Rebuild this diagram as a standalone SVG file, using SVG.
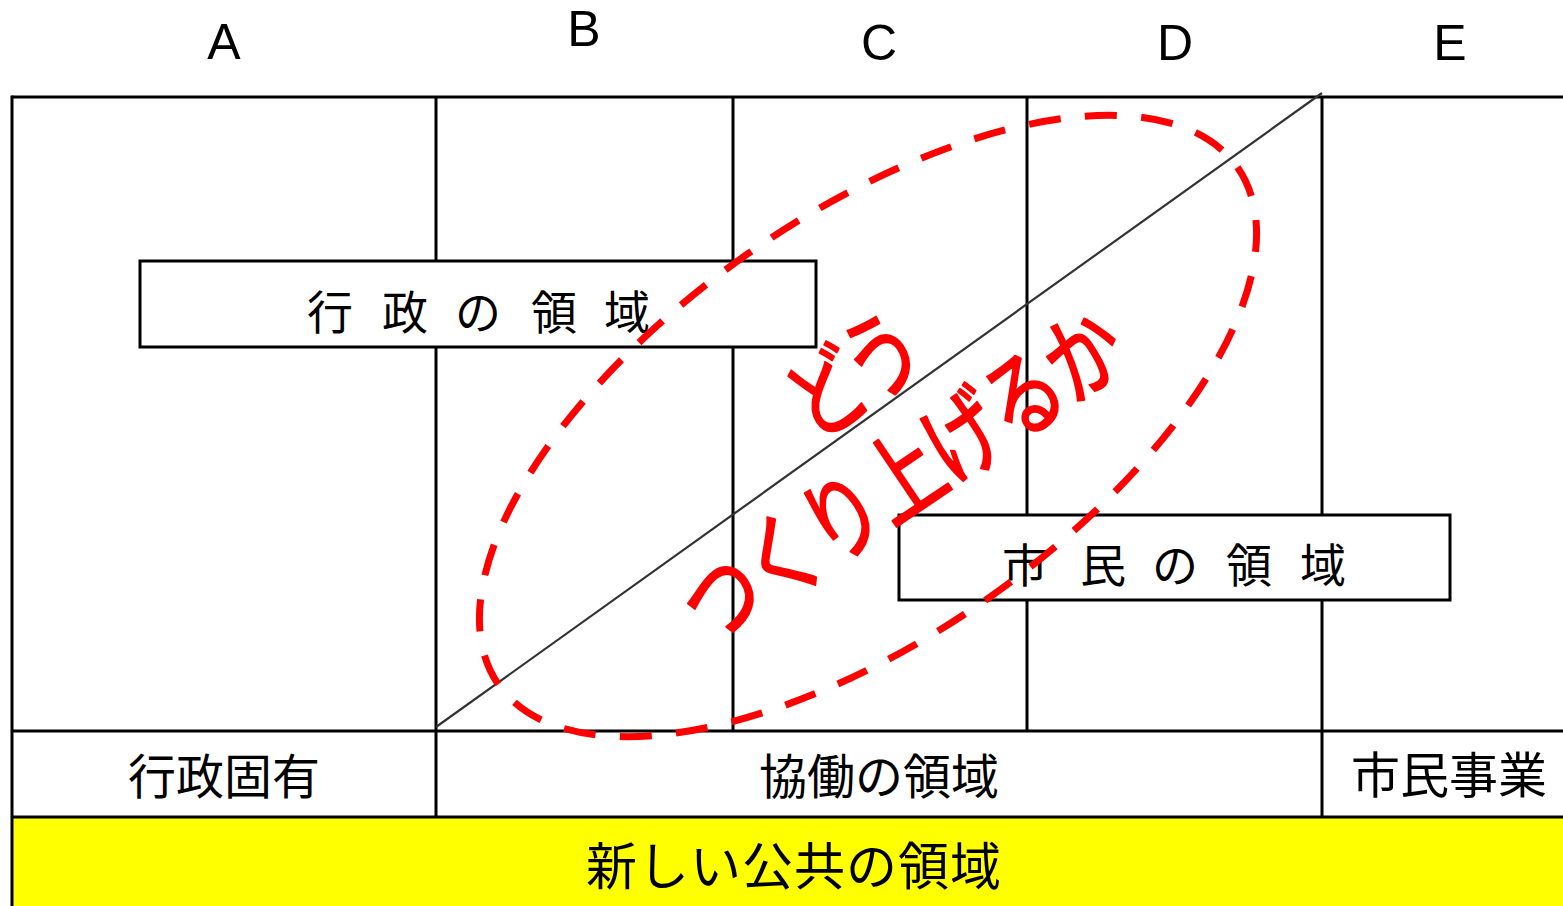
<svg xmlns="http://www.w3.org/2000/svg" width="1563" height="906" viewBox="0 0 1563 906">
<style>
.grid{stroke:#000;stroke-width:3;fill:none}
.box{fill:#fff;stroke:#000;stroke-width:3}
.hdr{font-family:"Liberation Sans",Arial,sans-serif;font-size:50px;fill:#000;text-anchor:middle}
.jp{font-family:"Noto Sans CJK JP","Noto Sans CJK SC",sans-serif;fill:#000;text-anchor:middle}
.red{font-family:"Noto Sans CJK JP","Noto Sans CJK SC",sans-serif;fill:#ff0000;stroke:#ff0000;stroke-width:2;stroke-linejoin:round;font-size:96px;font-weight:400;text-anchor:middle}
</style>
<rect x="0" y="0" width="1563" height="906" fill="#fff"/>
<g id="headers">
<text class="hdr" x="224" y="59">A</text>
<text class="hdr" x="584" y="46">B</text>
<text class="hdr" x="879" y="60">C</text>
<text class="hdr" x="1175" y="60">D</text>
<text class="hdr" x="1450" y="60">E</text>
</g>
<g id="public-band">
<rect x="12" y="817" width="1551" height="89" fill="#ffff00"/>
<text class="jp" x="794" y="885" font-size="51" letter-spacing="1">新しい公共の領域</text>
</g>
<g id="grid" class="grid">
<line x1="12" y1="97" x2="1563" y2="97"/>
<line x1="12" y1="731" x2="1563" y2="731"/>
<line x1="12" y1="817" x2="1563" y2="817"/>
<line x1="12" y1="95.5" x2="12" y2="906"/>
<line x1="436" y1="97" x2="436" y2="817"/>
<line x1="733" y1="97" x2="733" y2="731"/>
<line x1="1027" y1="97" x2="1027" y2="731"/>
<line x1="1322" y1="97" x2="1322" y2="817"/>
</g>
<g id="row-labels">
<text class="jp" x="224" y="794" font-size="48">行政固有</text>
<text class="jp" x="879" y="794" font-size="48">協働の領域</text>
<text class="jp" x="1449" y="793" font-size="49">市民事業</text>
</g>
<g id="gov-domain">
<rect class="box" x="140" y="261" width="676" height="86"/>
<text class="jp" font-size="46" y="328.5"><tspan x="330">行</tspan><tspan x="405">政</tspan><tspan x="478">の</tspan><tspan x="554">領</tspan><tspan x="627">域</tspan></text>
</g>
<g id="citizen-domain">
<rect class="box" x="899" y="515" width="551" height="85"/>
<text class="jp" font-size="46" y="581.5"><tspan x="1025">市</tspan><tspan x="1103">民</tspan><tspan x="1175">の</tspan><tspan x="1249">領</tspan><tspan x="1323">域</tspan></text>
</g>
<g id="connectors">
<line x1="436" y1="727" x2="1322" y2="93" stroke="#333" stroke-width="2.2"/>
</g>
<g id="collab-ellipse">
<ellipse cx="868" cy="426" rx="451" ry="210" transform="rotate(-35 868 426)" fill="none" stroke="#ff0000" stroke-width="7" stroke-dasharray="32 24.5"/>
</g>
<g id="question" transform="translate(876 426) rotate(-34) scale(0.78 1)">
<text class="red" x="9" y="-20" letter-spacing="-10">どう</text>
<text class="red" x="-9" y="92" letter-spacing="-3">つくり上げるか</text>
</g>
</svg>
